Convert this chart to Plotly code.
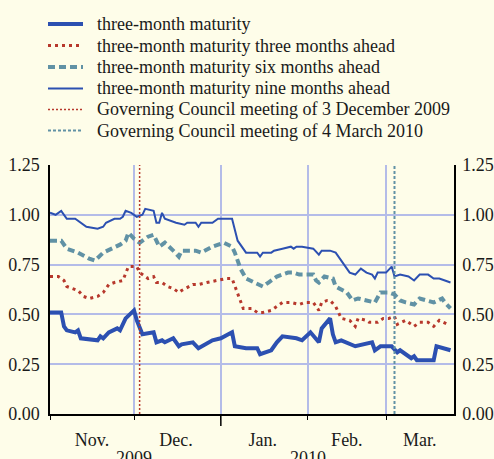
import plotly.graph_objects as go

# three-month maturity (thick blue)
d_3m = ["2009-11-01", "2009-11-05", "2009-11-06", "2009-11-07", "2009-11-10", "2009-11-11",
        "2009-11-12", "2009-11-18", "2009-11-19", "2009-11-20", "2009-11-22", "2009-11-25",
        "2009-11-26", "2009-11-28", "2009-12-01", "2009-12-02", "2009-12-04", "2009-12-08",
        "2009-12-09", "2009-12-11", "2009-12-12", "2009-12-15", "2009-12-17", "2009-12-18",
        "2009-12-22", "2009-12-24", "2009-12-29", "2010-01-01", "2010-01-05", "2010-01-06",
        "2010-01-10", "2010-01-14", "2010-01-15", "2010-01-19", "2010-01-21", "2010-01-23",
        "2010-01-28", "2010-01-30", "2010-02-02", "2010-02-05", "2010-02-06", "2010-02-09",
        "2010-02-10", "2010-02-11", "2010-02-13", "2010-02-18", "2010-02-24", "2010-02-25",
        "2010-02-27", "2010-03-03", "2010-03-05", "2010-03-06", "2010-03-10", "2010-03-11",
        "2010-03-12", "2010-03-18", "2010-03-19", "2010-03-21", "2010-03-24"]
v_3m = [0.51, 0.51, 0.44, 0.42, 0.41, 0.42,
        0.38, 0.37, 0.39, 0.38, 0.41, 0.43,
        0.42, 0.48, 0.52, 0.47, 0.40, 0.41,
        0.36, 0.37, 0.36, 0.38, 0.34, 0.35,
        0.36, 0.33, 0.37, 0.38, 0.41, 0.34,
        0.33, 0.33, 0.30, 0.32, 0.36, 0.39,
        0.38, 0.37, 0.41, 0.36, 0.43, 0.48,
        0.40, 0.36, 0.37, 0.34, 0.36, 0.32,
        0.34, 0.34, 0.31, 0.32, 0.28, 0.29,
        0.27, 0.27, 0.34, 0.33, 0.32]

# three months ahead (red dotted)
d_3a = ["2009-11-01", "2009-11-04", "2009-11-06", "2009-11-07", "2009-11-09", "2009-11-11",
        "2009-11-13", "2009-11-15", "2009-11-18", "2009-11-20", "2009-11-22", "2009-11-24",
        "2009-11-27", "2009-11-28", "2009-11-29", "2009-12-02", "2009-12-03", "2009-12-06",
        "2009-12-08", "2009-12-09", "2009-12-11", "2009-12-13", "2009-12-15", "2009-12-17",
        "2009-12-18", "2009-12-22", "2009-12-24", "2009-12-27", "2009-12-30", "2010-01-03",
        "2010-01-05", "2010-01-06", "2010-01-07", "2010-01-08", "2010-01-09", "2010-01-12",
        "2010-01-14", "2010-01-16", "2010-01-19", "2010-01-21", "2010-01-23", "2010-01-26",
        "2010-01-29", "2010-01-31", "2010-02-03", "2010-02-05", "2010-02-06", "2010-02-08",
        "2010-02-09", "2010-02-11", "2010-02-12", "2010-02-13", "2010-02-16", "2010-02-18",
        "2010-02-19", "2010-02-22", "2010-02-23", "2010-02-26", "2010-02-28", "2010-03-02",
        "2010-03-04", "2010-03-05", "2010-03-08", "2010-03-11", "2010-03-13", "2010-03-16",
        "2010-03-18", "2010-03-20", "2010-03-23"]
v_3a = [0.69, 0.69, 0.67, 0.64, 0.63, 0.62,
        0.59, 0.58, 0.59, 0.61, 0.65, 0.66,
        0.67, 0.71, 0.74, 0.74, 0.71, 0.68,
        0.69, 0.66, 0.66, 0.64, 0.63, 0.61,
        0.62, 0.65, 0.65, 0.66, 0.67, 0.68,
        0.68, 0.64, 0.61, 0.56, 0.53, 0.53,
        0.51, 0.51, 0.52, 0.54, 0.56, 0.56,
        0.55, 0.56, 0.56, 0.52, 0.56, 0.57,
        0.57, 0.54, 0.51, 0.48, 0.47, 0.44,
        0.48, 0.47, 0.46, 0.46, 0.48, 0.48,
        0.49, 0.45, 0.47, 0.44, 0.46, 0.46,
        0.44, 0.47, 0.45]

# six months ahead (teal dashed)
d_6a = ["2009-11-01", "2009-11-05", "2009-11-07", "2009-11-11", "2009-11-15", "2009-11-17",
        "2009-11-20", "2009-11-23", "2009-11-26", "2009-11-28", "2009-11-29", "2009-12-01",
        "2009-12-03", "2009-12-06", "2009-12-08", "2009-12-10", "2009-12-12", "2009-12-15",
        "2009-12-17", "2009-12-18", "2009-12-23", "2009-12-25", "2009-12-29", "2010-01-02",
        "2010-01-05", "2010-01-06", "2010-01-08", "2010-01-10", "2010-01-13", "2010-01-16",
        "2010-01-18", "2010-01-21", "2010-01-25", "2010-01-27", "2010-01-29", "2010-02-03",
        "2010-02-04", "2010-02-05", "2010-02-07", "2010-02-10", "2010-02-11", "2010-02-15",
        "2010-02-17", "2010-02-19", "2010-02-22", "2010-02-25", "2010-02-27", "2010-03-01",
        "2010-03-02", "2010-03-04", "2010-03-06", "2010-03-08", "2010-03-11", "2010-03-13",
        "2010-03-16", "2010-03-18", "2010-03-21", "2010-03-22", "2010-03-24"]
v_6a = [0.87, 0.87, 0.83, 0.81, 0.78, 0.77,
        0.81, 0.83, 0.85, 0.87, 0.91, 0.88,
        0.86, 0.89, 0.90, 0.84, 0.86, 0.82,
        0.79, 0.82, 0.82, 0.81, 0.84, 0.86,
        0.84, 0.81, 0.73, 0.68, 0.66, 0.64,
        0.66, 0.69, 0.71, 0.71, 0.70, 0.70,
        0.67, 0.66, 0.69, 0.68, 0.64, 0.61,
        0.57, 0.58, 0.57, 0.56, 0.61, 0.61,
        0.61, 0.60, 0.57, 0.56, 0.55, 0.58,
        0.57, 0.56, 0.58, 0.56, 0.53]

# nine months ahead (thin blue)
d_9a = ["2009-11-01", "2009-11-03", "2009-11-05", "2009-11-07", "2009-11-10", "2009-11-14",
        "2009-11-18", "2009-11-20", "2009-11-21", "2009-11-24", "2009-11-26", "2009-11-27",
        "2009-11-28", "2009-11-30", "2009-12-02", "2009-12-04", "2009-12-05", "2009-12-08",
        "2009-12-09", "2009-12-10", "2009-12-11", "2009-12-12", "2009-12-16", "2009-12-19",
        "2009-12-20", "2009-12-23", "2009-12-24", "2009-12-25", "2009-12-29", "2009-12-31",
        "2010-01-05", "2010-01-07", "2010-01-10", "2010-01-14", "2010-01-15", "2010-01-16",
        "2010-01-19", "2010-01-20", "2010-01-23", "2010-01-26", "2010-01-27", "2010-01-28",
        "2010-01-30", "2010-02-03", "2010-02-05", "2010-02-06", "2010-02-09", "2010-02-11",
        "2010-02-14", "2010-02-16", "2010-02-18", "2010-02-20", "2010-02-22", "2010-02-24",
        "2010-02-25", "2010-02-26", "2010-03-01", "2010-03-03", "2010-03-04", "2010-03-06",
        "2010-03-09", "2010-03-11", "2010-03-13", "2010-03-16", "2010-03-18", "2010-03-20",
        "2010-03-22", "2010-03-24"]
v_9a = [1.01, 1.00, 1.02, 0.98, 0.98, 0.94,
        0.93, 0.94, 0.96, 0.98, 0.98, 0.99,
        1.02, 1.01, 0.99, 1.00, 1.03, 1.02,
        0.96, 0.96, 1.01, 0.98, 0.96, 0.95,
        0.96, 0.96, 0.94, 0.96, 0.96, 0.98,
        0.98, 0.87, 0.81, 0.81, 0.79, 0.81,
        0.81, 0.82, 0.83, 0.84, 0.83, 0.84,
        0.84, 0.83, 0.80, 0.82, 0.82, 0.81,
        0.75, 0.71, 0.70, 0.73, 0.71, 0.70,
        0.68, 0.71, 0.71, 0.74, 0.69, 0.70,
        0.69, 0.67, 0.70, 0.70, 0.68, 0.68,
        0.67, 0.66]

meeting_dec = "2009-12-03"
meeting_mar = "2010-03-04"
y_span = [0, 1.25]

month_mid = ["2009-11-16", "2009-12-16", "2010-01-16", "2010-02-15", "2010-03-13"]
month_txt = ["Nov.", "Dec.", "Jan.", "Feb.", "Mar."]
years = ["2009", "2010"]
year_pos = ["2009-12-01", "2010-02-01"]

BG = "#fefde9"
GRID = "#b4bce8"
BLUE = "#2c50b1"
RED = "#b7382c"
TEAL = "#6192a5"
FONT = "Liberation Serif, Times New Roman, serif"

series = [
    ("three-month maturity", d_3m, v_3m, BLUE, 4, "solid"),
    ("three-month maturity three months ahead", d_3a, v_3a, RED, 3, "3px,4px"),
    ("three-month maturity six months ahead", d_6a, v_6a, TEAL, 4, "7px,4px"),
    ("three-month maturity nine months ahead", d_9a, v_9a, BLUE, 2, "solid"),
]

fig = go.Figure()
fig.add_trace(go.Scatter(x=[meeting_dec, meeting_dec], y=y_span, mode="lines", yaxis="y2",
                         line=dict(color=RED, width=1.5, dash="2px,2px"), showlegend=False))
fig.add_trace(go.Scatter(x=[meeting_mar, meeting_mar], y=y_span, mode="lines", yaxis="y2",
                         line=dict(color=TEAL, width=2, dash="3px,2px"), showlegend=False))
for name, d, v, c, w, dash in series:
    fig.add_trace(go.Scatter(x=d, y=v, mode="lines", name=name, showlegend=False,
                             line=dict(color=c, width=w, dash=dash)))

L, T, W, H = 50, 165, 404, 249   # plot area in pixels
def px(x):
    return (x - L) / W
def py(y):
    return (T + H - y) / H

# hand-made legend (rows are tighter than plotly's own legend)
legend_rows = [
    (series[0][0], BLUE, 4, "solid"),
    (series[1][0], RED, 3, "3px,4px"),
    (series[2][0], TEAL, 4, "7px,4px"),
    (series[3][0], BLUE, 2, "solid"),
    ("Governing Council meeting of 3 December 2009", RED, 1.5, "2px,2px"),
    ("Governing Council meeting of 4 March 2010", TEAL, 2, "3px,2px"),
]
row_y = [24, 45.5, 67, 88.5, 109.5, 130.5]
for (label, c, w, dash), ry in zip(legend_rows, row_y):
    fig.add_shape(type="line", xref="paper", yref="paper", x0=px(48), x1=px(83),
                  y0=py(ry), y1=py(ry), line=dict(color=c, width=w, dash=dash))
    fig.add_annotation(text=label, xref="paper", yref="paper", x=px(95), y=py(ry),
                       xanchor="left", yanchor="middle", showarrow=False,
                       font=dict(size=18, color="#1a1a1a", family=FONT))

for yr, pos in zip(years, year_pos):
    fig.add_annotation(text=yr, x=pos, xref="x", yref="paper", y=py(446),
                       xanchor="center", yanchor="top", showarrow=False,
                       font=dict(size=18, color="#1a1a1a", family=FONT))

# longer tick at the year boundary
fig.add_shape(type="line", xref="x", yref="paper", x0="2010-01-01", x1="2010-01-01",
              y0=0, y1=py(426), line=dict(color="black", width=1.5))

yax = dict(range=[0, 1.25], dtick=0.25, tickformat=".2f", showline=True, linecolor="black",
           linewidth=1.5, ticks="", zeroline=False, fixedrange=True,
           automargin=False, tickfont=dict(size=18, color="#1a1a1a", family=FONT))

fig.update_layout(
    width=494, height=459,
    margin=dict(l=L, r=494 - L - W, t=T, b=459 - T - H),
    paper_bgcolor=BG, plot_bgcolor=BG,
    showlegend=False,
    xaxis=dict(type="date", range=["2009-11-01", "2010-03-25 06:00"], automargin=False,
               tickvals=month_mid, ticktext=month_txt, ticks="", showgrid=False,
               ticklabelstandoff=9, showline=True, linecolor="black", linewidth=1.5,
               tickfont=dict(size=18, color="#1a1a1a", family=FONT),
               minor=dict(dtick="M1", tick0="2009-11-01", ticks="outside", ticklen=4,
                          tickcolor="black", showgrid=True, gridcolor=GRID, gridwidth=1.5)),
    yaxis=dict(**yax, showgrid=True, gridcolor=GRID, gridwidth=1.5, ticklabelstandoff=5),
    yaxis2=dict(**yax, overlaying="y", side="right", showgrid=False, ticklabelstandoff=3),
)

# drop the default page margin so the figure sits at the window's top-left corner
fig.write_html("out.html", config={"displayModeBar": False},
               post_script="document.body.style.margin='0';")
